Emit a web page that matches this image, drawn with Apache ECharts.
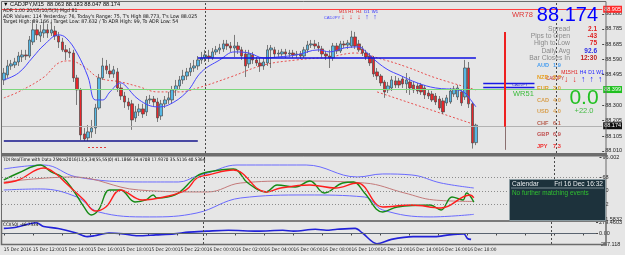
<!DOCTYPE html>
<html lang="en">
<head>
<meta charset="UTF-8">
<title>CADJPY M15</title>
<style>
    * { margin: 0; padding: 0; }
    body { background: #e6e6e6; }
    .echarts { width: 625px; height: 255px; background: #e6e6e6; }
</style>
<script src="https://cdn.jsdelivr.net/npm/echarts@6/dist/echarts.min.js"></script>
</head>
<body>
<div id="echarts" class="echarts"></div>
<script>
// time axis: one label every 8 bars (2h of M15)
var timeLabels = ['15 Dec 2016', '15 Dec 12:00', '15 Dec 14:00', '15 Dec 16:00', '15 Dec 18:00', '15 Dec 20:00',
    '15 Dec 22:00', '16 Dec 00:00', '16 Dec 02:00', '16 Dec 04:00', '16 Dec 06:00', '16 Dec 08:00',
    '16 Dec 10:00', '16 Dec 12:00', '16 Dec 14:00', '16 Dec 16:00', '16 Dec 18:00'];
var slots = 164; // bars + chart shift

var opens = [88.461, 88.493, 88.550, 88.556, 88.575, 88.607, 88.620, 88.613, 88.702, 88.779,
    88.740, 88.759, 88.779, 88.759, 88.772, 88.740, 88.702, 88.652, 88.639, 88.632,
    88.474, 88.398, 88.118, 88.093, 88.131, 88.156, 88.283, 88.474, 88.550, 88.518,
    88.499, 88.512, 88.410, 88.359, 88.321, 88.309, 88.220, 88.258, 88.277, 88.258,
    88.334, 88.340, 88.321, 88.232, 88.309, 88.334, 88.334, 88.398, 88.423, 88.461,
    88.486, 88.512, 88.537, 88.550, 88.588, 88.601, 88.613, 88.601, 88.639, 88.652,
    88.658, 88.690, 88.677, 88.664, 88.677, 88.652, 88.626, 88.563, 88.620, 88.588,
    88.569, 88.550, 88.569, 88.652, 88.652, 88.626, 88.626, 88.639, 88.626, 88.632,
    88.620, 88.626, 88.613, 88.652, 88.683, 88.690, 88.677, 88.658, 88.626, 88.613,
    88.601, 88.677, 88.645, 88.690, 88.683, 88.677, 88.734, 88.690, 88.658, 88.632,
    88.613, 88.601, 88.512, 88.486, 88.448, 88.398, 88.410, 88.455, 88.455, 88.467,
    88.436, 88.448, 88.429, 88.423, 88.429, 88.410, 88.378, 88.372, 88.359, 88.340,
    88.328, 88.315, 88.321, 88.372, 88.353, 88.385, 88.353, 88.537, 88.309, 88.063];
var closes = [88.505, 88.550, 88.563, 88.575, 88.613, 88.620, 88.613, 88.715, 88.779, 88.747,
    88.766, 88.779, 88.759, 88.779, 88.740, 88.702, 88.652, 88.639, 88.632, 88.474,
    88.398, 88.112, 88.086, 88.131, 88.156, 88.283, 88.474, 88.550, 88.525, 88.499,
    88.525, 88.410, 88.359, 88.321, 88.296, 88.207, 88.258, 88.277, 88.245, 88.334,
    88.340, 88.321, 88.220, 88.309, 88.334, 88.347, 88.398, 88.423, 88.461, 88.486,
    88.512, 88.537, 88.550, 88.588, 88.601, 88.620, 88.601, 88.639, 88.652, 88.664,
    88.690, 88.677, 88.664, 88.677, 88.652, 88.613, 88.550, 88.626, 88.588, 88.569,
    88.550, 88.575, 88.652, 88.664, 88.626, 88.632, 88.639, 88.626, 88.632, 88.620,
    88.626, 88.613, 88.652, 88.683, 88.690, 88.677, 88.664, 88.626, 88.613, 88.601,
    88.677, 88.645, 88.690, 88.683, 88.696, 88.734, 88.677, 88.652, 88.632, 88.607,
    88.569, 88.499, 88.486, 88.442, 88.385, 88.423, 88.461, 88.429, 88.429, 88.436,
    88.461, 88.410, 88.398, 88.391, 88.385, 88.366, 88.359, 88.334, 88.321, 88.283,
    88.258, 88.347, 88.391, 88.404, 88.410, 88.315, 88.537, 88.309, 88.061, 88.174];
var highs = [88.537, 88.588, 88.588, 88.601, 88.639, 88.652, 88.652, 88.740, 88.842, 88.817,
    88.810, 88.829, 88.817, 88.829, 88.804, 88.766, 88.728, 88.683, 88.664, 88.652,
    88.493, 88.410, 88.156, 88.175, 88.207, 88.309, 88.499, 88.601, 88.588, 88.563,
    88.550, 88.537, 88.436, 88.385, 88.347, 88.334, 88.296, 88.309, 88.309, 88.359,
    88.366, 88.359, 88.347, 88.334, 88.359, 88.385, 88.423, 88.461, 88.486, 88.525,
    88.537, 88.569, 88.588, 88.613, 88.639, 88.652, 88.652, 88.664, 88.677, 88.690,
    88.715, 88.715, 88.702, 88.747, 88.702, 88.671, 88.652, 88.652, 88.639, 88.607,
    88.601, 88.601, 88.683, 88.683, 88.671, 88.652, 88.658, 88.658, 88.652, 88.652,
    88.645, 88.645, 88.671, 88.709, 88.715, 88.715, 88.702, 88.677, 88.645, 88.652,
    88.696, 88.696, 88.709, 88.709, 88.715, 88.773, 88.766, 88.715, 88.677, 88.652,
    88.632, 88.613, 88.537, 88.499, 88.461, 88.448, 88.486, 88.486, 88.474, 88.486,
    88.505, 88.480, 88.448, 88.442, 88.442, 88.429, 88.398, 88.391, 88.378, 88.359,
    88.347, 88.366, 88.410, 88.423, 88.429, 88.398, 88.588, 88.575, 88.321, 88.183];
var lows = [88.429, 88.474, 88.525, 88.537, 88.550, 88.575, 88.588, 88.601, 88.683, 88.715,
    88.702, 88.728, 88.728, 88.740, 88.715, 88.664, 88.639, 88.588, 88.601, 88.448,
    88.302, 88.080, 88.074, 88.074, 88.093, 88.118, 88.271, 88.461, 88.499, 88.474,
    88.474, 88.385, 88.334, 88.283, 88.271, 88.144, 88.194, 88.232, 88.220, 88.232,
    88.309, 88.296, 88.194, 88.207, 88.283, 88.309, 88.309, 88.359, 88.398, 88.436,
    88.461, 88.486, 88.512, 88.525, 88.563, 88.575, 88.575, 88.588, 88.620, 88.626,
    88.639, 88.652, 88.639, 88.607, 88.626, 88.588, 88.480, 88.537, 88.563, 88.550,
    88.512, 88.525, 88.550, 88.537, 88.601, 88.607, 88.607, 88.601, 88.607, 88.601,
    88.601, 88.594, 88.601, 88.632, 88.664, 88.658, 88.639, 88.607, 88.588, 88.537,
    88.582, 88.626, 88.632, 88.664, 88.658, 88.664, 88.658, 88.639, 88.613, 88.588,
    88.550, 88.480, 88.461, 88.423, 88.347, 88.378, 88.391, 88.410, 88.410, 88.410,
    88.378, 88.366, 88.378, 88.372, 88.366, 88.340, 88.340, 88.321, 88.302, 88.271,
    88.245, 88.296, 88.309, 88.353, 88.334, 88.296, 88.334, 88.283, 88.025, 88.047];

// moving averages, [bar, price]
var maFast = [[0, 88.461], [4, 88.505], [8, 88.607], [11, 88.683], [15, 88.747], [17, 88.728], [20, 88.632],
    [23, 88.480], [25, 88.334], [27, 88.334], [29, 88.385], [32, 88.442], [33, 88.430], [37, 88.334],
    [42, 88.290], [45, 88.302], [50, 88.385], [54, 88.512], [59, 88.588], [63, 88.639], [67, 88.632],
    [71, 88.601], [75, 88.607], [80, 88.620], [86, 88.652], [89, 88.639], [93, 88.664], [97, 88.671],
    [99, 88.639], [102, 88.575], [105, 88.525], [108, 88.493], [113, 88.442], [118, 88.410],
    [124, 88.398], [126, 88.378], [128, 88.321], [129, 88.290]];
var maSlow = [[0, 88.347], [4, 88.385], [11, 88.480], [15, 88.569], [18, 88.582], [22, 88.544], [26, 88.474],
    [32, 88.448], [37, 88.417], [42, 88.385], [48, 88.385], [53, 88.410], [62, 88.480], [71, 88.556],
    [80, 88.588], [89, 88.607], [96, 88.632], [104, 88.588], [110, 88.544], [118, 88.474], [129, 88.398]];
var channelLow = [[102, 88.385], [129, 88.175]];

// TDI, [bar, value]
var tdiUpper = [[0, 79.7], [11, 85.1], [20, 68.8], [38, 62.0], [48, 62.0], [53, 70.1], [56, 74.2], [64, 85.1],
    [83, 85.1], [97, 68.8], [104, 72.9], [112, 71.5], [120, 60.6], [129, 53.8]];
var tdiLower = [[0, 51.1], [10, 52.5], [20, 41.6], [26, 21.2], [40, 14.4], [53, 19.8], [65, 40.2], [83, 44.3],
    [99, 41.6], [104, 23.9], [117, 14.4], [129, 17.9]];
var tdiMid = [[0, 62.0], [19, 68.8], [37, 51.1], [56, 48.4], [65, 60.6], [80, 63.3], [99, 60.6], [110, 47.0],
    [118, 37.5], [129, 35.5]];
var tdiGreen = [[0, 64.7], [4, 74.2], [10, 85.1], [13, 75.6], [16, 68.8], [19, 51.1], [22, 28.0], [24, 17.1],
    [26, 23.9], [29, 51.1], [32, 51.1], [36, 34.8], [39, 37.5], [41, 44.3], [42, 40.2], [47, 44.3], [53, 70.1],
    [56, 75.6], [63, 79.7], [67, 60.6], [72, 48.4], [75, 57.9], [80, 55.2], [84, 63.3], [88, 47.0], [93, 60.6],
    [96, 62.0], [99, 47.0], [104, 21.2], [108, 28.0], [117, 30.7], [120, 23.9], [123, 41.6], [126, 37.5],
    [127, 47.0], [129, 34.5]];
var tdiRed = [[0, 60.6], [4, 64.7], [11, 81.0], [14, 74.2], [17, 60.6], [22, 37.5], [25, 22.5], [28, 28.0],
    [32, 51.1], [38, 37.5], [44, 41.6], [50, 51.1], [53, 67.4], [56, 71.5], [63, 78.3], [72, 48.4], [76, 53.8],
    [84, 57.9], [91, 53.8], [97, 60.6], [104, 28.0], [112, 30.7], [120, 26.6], [128, 44.3], [129, 40.5]];
var tdiLevels = [68, 50, 32];

var cci = [[0, 123], [3, 145], [9, 260], [11, 168], [15, 123], [20, 11], [23, -78], [25, -56], [29, 11],
    [33, -11], [37, -56], [42, -34], [47, -11], [51, 33], [56, 56], [62, 78], [70, 56], [77, 78], [80, 56],
    [86, 101], [89, 78], [92, 101], [97, 123], [99, 11], [103, -250], [107, -145], [113, -78], [119, -78],
    [123, -34], [127, -11], [128, -123], [129, -145]];

// axis ticks
var priceTicks = [88.880, 88.785, 88.685, 88.590, 88.495, 88.300, 88.205, 88.105, 88.010];
var tdiTicks = [96.002, 68, 50, 32, 11.5832];
var tdiTickText = ['96.002', '68', '50', '32', '11.5832'];
var cciTicks = [279.4603, 0, -257.118];
var cciTickText = ['279.4603', '0.00', '-257.118'];

// chart objects
var priceLines = [88.905, 88.399, 88.174];
var dayLevels = [[0, 53, 88.074], [53, 129, 88.601]];
var boxLines = [[131, 145, 88.442], [131, 145, 88.417]];
var adrBar = [137, 88.766, 88.163, 88.017];
var separators = [55, 151];

var F = '"Liberation Sans", Arial, sans-serif';
var FN = '"Liberation Sans Narrow", "DejaVu Sans Condensed", "Liberation Sans", sans-serif';

function txt(x, y, s, size, fill, align, bold, fam) {
    return {
        type: 'text', z: 120, silent: true,
        style: {
            x: x, y: y, text: s, fill: fill || '#000',
            font: (bold ? 'bold ' : '') + size + 'px ' + (fam || F),
            align: align || 'left', verticalAlign: 'middle'
        }
    };
}

function buildGraphic() {
    var g = [];
    // panel frames
    g.push({ type: 'rect', z: 90, silent: true, shape: { x: 1.5, y: 1.5, width: 604.5, height: 152 }, style: { fill: 'none', stroke: '#6b6b6b', lineWidth: 1 } });
    g.push({ type: 'rect', z: 90, silent: true, shape: { x: 1, y: 153, width: 606, height: 3 }, style: { fill: '#6e6e6e' } });
    g.push({ type: 'rect', z: 90, silent: true, shape: { x: 1.5, y: 156, width: 604.5, height: 65 }, style: { fill: 'none', stroke: '#6b6b6b', lineWidth: 1 } });
    g.push({ type: 'rect', z: 90, silent: true, shape: { x: 1.5, y: 221, width: 604.5, height: 23.5 }, style: { fill: 'none', stroke: '#6b6b6b', lineWidth: 1.5 } });

    // header texts
    g.push(txt(3, 4.5, '▼ CADJPY,M15  88.063 88.183 88.047 88.174', 5.6, '#000'));
    g.push(txt(3, 11, 'ADR 1.00 20/05/10/5(3) Mgd 81', 5.2, '#222', 'left', false, FN));
    g.push(txt(3, 16.5, "ADR Values: 114 Yesterday: 76, Today's Range: 75, T's High 88.773, T's Low 88.025", 5.2, '#111', 'left', false, FN));
    g.push(txt(3, 22, 'Target High: 89.166 / Target Low: 87.632 / To ADR High: 99, To ADR Low: 54', 5.2, '#111', 'left', false, FN));

    // small MTF blocks
    var tfs = ['M15', 'H1', 'H4', 'D1', 'W1'];
    var upTop = [false, false, false, true, true];
    var upRight = [false, false, true, true, true];
    for (var i = 0; i < 5; i++) {
        var c1 = upTop[i] ? '#2020ff' : '#e02020';
        g.push(txt(343 + i * 8, 11.5, tfs[i], 4.2, c1, 'center'));
        g.push(txt(343 + i * 8, 17.5, upTop[i] ? '↑' : '↓', 7, c1, 'center', true));
        var c2 = upRight[i] ? '#2020ff' : '#e02020';
        g.push(txt(566 + i * 8.5, 73, tfs[i], 5, c2, 'center'));
        g.push(txt(566 + i * 8.5, 80, upRight[i] ? '↑' : '↓', 8.5, c2, 'center', true));
    }
    g.push(txt(332, 17.5, 'CADJPY', 4.2, '#4a4aff', 'center'));
    g.push(txt(555, 79, 'CADJPY', 4.6, '#c03030', 'center'));

    // info panel
    g.push(txt(512, 14.5, 'WR78', 7.5, '#e03838'));
    g.push(txt(513, 93.5, 'WR51', 7.5, '#3cbc3c'));
    g.push(txt(598, 15, '88.174', 20, '#0000ff', 'right'));
    var rows = [['Spread', '2.1', '#e02020', 29], ['Pips to Open', '-43', '#e02020', 36.5],
        ['High to Low', '75', '#e02020', 43.5], ['Daily Avg', '92.6', '#2a2ae6', 51],
        ['Bar Closes In', '12:30', '#c02020', 58]];
    rows.forEach(function (r) {
        g.push(txt(570, r[3], r[0], 6.8, '#8a8a8a', 'right'));
        g.push(txt(597, r[3], r[1], 6.5, r[2], 'right', true));
    });
    var ccy = [['AUD', '1.9', '#4a9ff0'], ['NZD', '2.?', '#e8a020'], ['EUR', '3.0', '#e0a030'], ['CAD', '4.0', '#d8a050'],
        ['USD', '4.0', '#d8a050'], ['CHF', '6.1', '#b86050'], ['GBP', '6.9', '#c05050'], ['JPY', '7.3', '#f03030']];
    ccy.forEach(function (c, k) {
        var y = 65.5 + k * 11.5;
        g.push(txt(537, y, c[0], 5.6, c[2], 'left', true));
        g.push(txt(553, y, c[1], 5.6, c[2], 'left', true));
    });
    g.push(txt(584, 98, '0.0', 21, '#22c022', 'center'));
    g.push(txt(584, 111, '+22.0', 7.5, '#44bb44', 'center'));
    g.push(txt(512, 85, 'CADJPY', 4, '#3030d0'));

    // little marker under the low
    g.push({ type: 'line', z: 95, silent: true, shape: { x1: 88, y1: 147.5, x2: 108, y2: 147.5 }, style: { stroke: '#e04040', lineWidth: 1, lineDash: [2, 2] } });

    // panel headers
    g.push(txt(3, 159.5, 'TDI RealTime with Data 25Nov2016(13,5,34(55,55)0) 41.1866 34.4708 17.9370 35.5116 40.5364', 4.6, '#000', 'left', false, FN));
    g.push(txt(3, 225, 'CCI(50) -46.7534', 4.6, '#000', 'left', false, FN));

    // calendar box
    g.push({ type: 'rect', z: 110, silent: true, shape: { x: 509.5, y: 179.5, width: 96, height: 41 }, style: { fill: '#1d323c', stroke: '#8a9aa0', lineWidth: 1 } });
    g.push({ type: 'line', z: 111, silent: true, shape: { x1: 511, y1: 188, x2: 604, y2: 188 }, style: { stroke: '#7c8c94', lineWidth: 1 } });
    g.push(txt(512, 184, 'Calendar', 6.6, '#e4e8ea'));
    g.push(txt(603, 184, 'Fri 16 Dec 16:32', 6.6, '#e4e8ea', 'right'));
    g.push(txt(512, 193, 'No further matching events', 6.4, '#30c030'));
    return g;
}

var chart, option;
window.onload = function init() {
    chart = echarts.init(document.getElementById('echarts'));
    createChart();
};

function createChart() {
    var cats = [];
    for (var i = 0; i < slots; i++) cats.push(String(i));
    var candles = opens.map(function (o, k) { return [o, closes[k], lows[k], highs[k]]; });

    var sepLines = separators.map(function (s) {
        return { xAxis: s, lineStyle: { color: '#4a4a4a', type: [2, 2], width: 1 } };
    });

    var boxLabel = function (txtv, bg, fg) {
        return { show: true, position: 'end', distance: 1, formatter: txtv, fontSize: 5.5, fontFamily: F,
            color: fg, backgroundColor: bg, padding: [1, 1, 0, 1] };
    };

    var mlData = [
        { yAxis: priceLines[0], lineStyle: { color: '#ff4040', width: 1, type: 'solid' }, label: boxLabel('88.905', '#ff2a2a', '#fff') },
        { yAxis: priceLines[1], lineStyle: { color: '#7ed87e', width: 1, type: 'solid' }, label: boxLabel('88.399', '#20c020', '#fff') },
        { yAxis: priceLines[2], lineStyle: { color: '#b2b2b2', width: 1, type: 'solid' }, label: boxLabel('88.174', '#101010', '#fff') },
        [{ coord: [dayLevels[0][0], dayLevels[0][2]], lineStyle: { color: '#14148c', width: 1.6, type: 'solid' } }, { coord: [dayLevels[0][1], dayLevels[0][2]] }],
        [{ coord: [dayLevels[1][0], dayLevels[1][2]], lineStyle: { color: '#1010e0', width: 1.6, type: 'solid' } }, { coord: [dayLevels[1][1], dayLevels[1][2]] }],
        [{ coord: [boxLines[0][0], boxLines[0][2]], lineStyle: { color: '#1818e8', width: 1.3, type: 'solid' } }, { coord: [boxLines[0][1], boxLines[0][2]] }],
        [{ coord: [boxLines[1][0], boxLines[1][2]], lineStyle: { color: '#1818e8', width: 1.3, type: 'solid' } }, { coord: [boxLines[1][1], boxLines[1][2]] }],
        [{ coord: [adrBar[0], adrBar[1]], lineStyle: { color: '#ee2020', width: 2, type: 'solid' } }, { coord: [adrBar[0], adrBar[2]] }],
        [{ coord: [adrBar[0], adrBar[2]], lineStyle: { color: '#8a7070', width: 1, type: 'solid' } }, { coord: [adrBar[0], adrBar[3]] }]
    ].concat(sepLines);

    var xAxes = [0, 1, 2].map(function (g) {
        return {
            type: 'category', gridIndex: g, data: cats, boundaryGap: true,
            show: g === 2,
            axisLine: { show: false },
            axisTick: { show: g === 2, interval: 7, length: 2, alignWithLabel: true, lineStyle: { color: '#444' } },
            axisLabel: {
                show: g === 2, interval: 7, align: 'left', margin: 3, fontSize: 4.8, fontFamily: FN, color: '#222',
                formatter: function (v, idx) { return idx % 8 === 0 && timeLabels[idx / 8] ? timeLabels[idx / 8] : ''; }
            },
            splitLine: { show: false }
        };
    });

    var yLabel = { fontSize: 5.5, fontFamily: F, color: '#222', margin: 3 };
    option = {
        animation: false,
        backgroundColor: '#e6e6e6',
        grid: [
            { left: 2, right: 19, top: 2, height: 151 },
            { left: 2, right: 19, top: 157, height: 62 },
            { left: 2, right: 19, top: 222, height: 22 }
        ],
        xAxis: xAxes,
        yAxis: [
            {
                type: 'value', gridIndex: 0, position: 'right', min: 87.997, max: 88.956, scale: true,
                axisLine: { show: false }, splitLine: { show: false },
                axisTick: { show: true, length: 2, customValues: priceTicks, lineStyle: { color: '#444' } },
                axisLabel: Object.assign({ customValues: priceTicks, formatter: function (v) { return v.toFixed(3); } }, yLabel)
            },
            {
                type: 'value', gridIndex: 1, position: 'right', min: 11.5832, max: 96.002,
                axisLine: { show: false }, splitLine: { show: false },
                axisTick: { show: true, length: 2, customValues: tdiTicks, lineStyle: { color: '#444' } },
                axisLabel: Object.assign({ customValues: tdiTicks, formatter: function (v) { return tdiTickText[tdiTicks.indexOf(v)] || ''; } }, yLabel)
            },
            {
                type: 'value', gridIndex: 2, position: 'right', min: -257.118, max: 279.4603,
                axisLine: { show: false }, splitLine: { show: false },
                axisTick: { show: true, length: 2, customValues: cciTicks, lineStyle: { color: '#444' } },
                axisLabel: Object.assign({ customValues: cciTicks, formatter: function (v) { return cciTickText[cciTicks.indexOf(v)] || ''; } }, yLabel)
            }
        ],
        series: [
            {
                type: 'candlestick', xAxisIndex: 0, yAxisIndex: 0, data: candles, barWidth: 3,
                itemStyle: { color: '#55b8e6', color0: '#e8262a', borderColor: '#4a4a4a', borderColor0: '#4a4a4a', borderWidth: 0.7 },
                markLine: { silent: true, symbol: ['none', 'none'], animation: false, label: { show: false }, data: mlData },
                z: 3
            },
            { type: 'line', xAxisIndex: 0, yAxisIndex: 0, data: maFast, showSymbol: false, smooth: 0.4, lineStyle: { color: '#4646ff', width: 1 }, z: 4 },
            { type: 'line', xAxisIndex: 0, yAxisIndex: 0, data: maSlow, showSymbol: false, smooth: 0.4, lineStyle: { color: '#e85050', width: 1, type: [2, 2] }, z: 2 },
            { type: 'line', xAxisIndex: 0, yAxisIndex: 0, data: channelLow, showSymbol: false, lineStyle: { color: '#e85050', width: 1, type: [2, 2] }, z: 2 },
            {
                type: 'line', xAxisIndex: 1, yAxisIndex: 1, data: tdiUpper, showSymbol: false, smooth: 0.4, lineStyle: { color: '#6a6aff', width: 1 },
                markLine: {
                    silent: true, symbol: ['none', 'none'], label: { show: false },
                    data: tdiLevels.map(function (l) { return { yAxis: l, lineStyle: { color: '#8c8c8c', type: [1, 2], width: 1 } }; }).concat(sepLines)
                }
            },
            { type: 'line', xAxisIndex: 1, yAxisIndex: 1, data: tdiLower, showSymbol: false, smooth: 0.4, lineStyle: { color: '#6a6aff', width: 1 } },
            { type: 'line', xAxisIndex: 1, yAxisIndex: 1, data: tdiMid, showSymbol: false, smooth: 0.4, lineStyle: { color: '#c47a7a', width: 1 } },
            { type: 'line', xAxisIndex: 1, yAxisIndex: 1, data: tdiGreen, showSymbol: false, smooth: 0.4, lineStyle: { color: '#158a15', width: 1.4 } },
            { type: 'line', xAxisIndex: 1, yAxisIndex: 1, data: tdiRed, showSymbol: false, smooth: 0.4, lineStyle: { color: '#ff1e1e', width: 1.4 } },
            {
                type: 'line', xAxisIndex: 2, yAxisIndex: 2, data: cci, showSymbol: false, smooth: 0.3, lineStyle: { color: '#2222d8', width: 1.6 },
                markLine: {
                    silent: true, symbol: ['none', 'none'], label: { show: false },
                    data: [{ yAxis: 0, lineStyle: { color: '#5a6470', type: 'solid', width: 1 } }].concat(sepLines)
                }
            }
        ],
        graphic: buildGraphic()
    };
    chart.setOption(option);
}
</script>
</body>
</html>
